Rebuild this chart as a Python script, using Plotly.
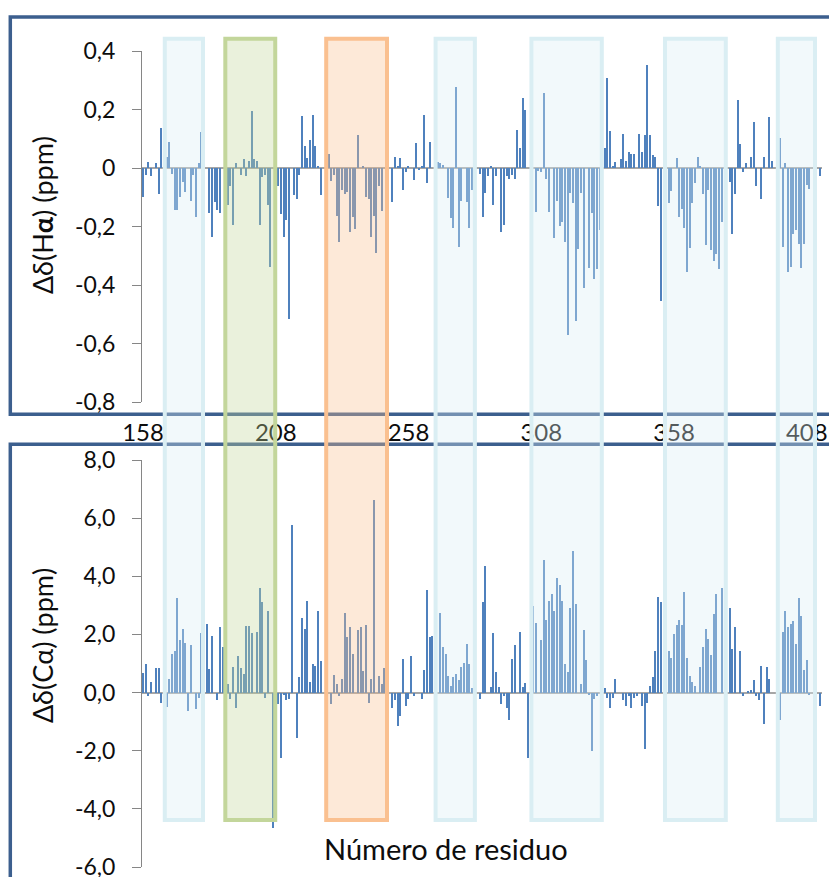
import plotly.graph_objects as go

# ---------------- data ----------------
ha_residue = [158,159,160,161,163,164,165,167,168,169,170,171,172,173,174,176,177,178,179,180,
              183,184,185,186,187,190,191,192,193,195,196,197,198,199,200,201,202,203,204,205,206,
              209,210,211,212,213,215,216,217,218,219,220,221,222,223,224,225,228,229,230,231,232,
              233,234,235,236,237,238,239,241,242,243,244,245,246,247,248,252,253,254,255,256,257,
              258,260,261,262,263,264,265,266,269,270,271,273,274,275,276,277,278,280,281,282,285,
              286,287,288,289,290,291,293,294,295,296,297,298,299,300,301,302,306,307,308,309,310,
              311,313,314,315,316,317,318,319,320,321,322,323,324,326,327,328,329,330,332,333,334,
              335,336,338,339,340,341,342,343,345,346,347,348,349,350,351,352,353,356,357,359,360,
              361,362,363,364,365,366,367,368,369,370,371,372,373,374,375,376,379,380,381,382,383,
              384,385,387,388,389,391,392,394,395,398,399,400,401,402,403,404,405,406,407,408,409,413]
ha_shift = [-0.098,-0.024,0.019,-0.028,0.016,-0.089,0.136,0.039,0.09,-0.022,-0.145,-0.145,-0.098,-0.047,-0.081,-0.112,-0.024,-0.168,0.016,0.122,
            -0.153,-0.237,-0.115,-0.144,-0.154,-0.126,-0.062,-0.195,0.016,-0.024,0.03,-0.027,0.025,0.196,0.03,0.025,-0.195,-0.03,-0.024,-0.126,-0.337,
            -0.062,-0.158,-0.236,-0.177,-0.517,-0.093,-0.107,-0.024,0.178,0.076,0.034,0.095,0.181,0.076,0.006,-0.092,0.048,-0.043,-0.024,-0.163,-0.254,
            -0.075,-0.089,-0.083,-0.218,-0.166,-0.209,0.112,0.006,-0.098,-0.106,-0.236,-0.163,-0.29,-0.062,-0.148,-0.115,0.039,0.006,0.033,-0.075,-0.015,
            0.007,-0.042,0.084,-0.005,0.006,0.181,-0.052,0.09,0.021,0.016,0.011,-0.104,-0.172,-0.204,0.278,-0.269,-0.112,-0.116,-0.204,-0.075,-0.02,
            -0.168,-0.084,-0.028,0.006,-0.126,-0.028,-0.218,-0.195,-0.028,-0.038,-0.024,-0.038,0.131,0.067,0.238,0.2,-0.149,-0.009,-0.015,0.255,-0.038,
            -0.149,-0.24,-0.112,-0.199,-0.186,-0.252,-0.571,-0.084,-0.121,-0.522,-0.277,-0.084,-0.411,-0.343,-0.154,-0.379,-0.346,-0.213,0.067,0.307,0.125,
            0.007,0.019,0.03,0.116,0.025,0.054,0.049,0.049,0.116,0.054,0.113,0.352,0.113,0.044,0.039,-0.13,-0.454,-0.121,-0.08,0.034,-0.168,
            -0.139,-0.204,-0.356,-0.272,-0.121,-0.051,0.039,0.006,-0.089,-0.263,-0.075,-0.281,-0.319,-0.295,-0.346,-0.186,-0.047,-0.227,-0.089,0.232,0.081,
            -0.015,0.016,0.039,0.158,-0.062,-0.107,0.039,0.173,0.025,0.104,-0.269,0.016,-0.356,-0.337,-0.227,-0.213,-0.259,-0.342,-0.259,-0.057,-0.071,-0.028]

ca_residue = [158,159,160,161,163,164,165,167,168,169,170,171,172,173,174,175,176,178,179,180,
              182,183,184,186,187,188,190,191,192,193,194,195,196,197,198,199,201,202,203,204,205,
              207,209,210,211,212,213,214,216,217,218,219,220,221,222,223,224,225,229,230,231,232,
              233,234,235,236,237,239,240,241,242,243,244,245,247,248,249,252,253,254,255,256,257,
              258,259,260,263,264,265,266,267,270,271,272,273,274,275,276,277,278,279,280,281,282,
              285,286,287,289,290,291,292,293,294,295,296,297,298,300,301,302,303,305,306,308,309,
              310,311,312,313,314,315,316,317,318,319,320,321,323,324,325,326,327,328,329,332,333,
              334,335,336,339,340,341,342,343,344,346,347,348,349,350,351,352,353,355,356,357,358,
              359,360,361,362,363,364,365,366,368,369,370,371,372,373,374,376,379,380,381,383,384,
              386,387,388,389,390,391,392,393,394,398,399,400,401,402,403,404,405,406,407,408,409,413]
ca_shift = [0.69,0.97,-0.11,0.38,0.84,0.84,-0.36,-0.49,0.47,1.34,1.43,3.25,1.81,2.18,1.72,-0.63,1.63,-0.58,-0.17,2.04,
            2.37,0.80,1.95,-0.26,2.27,1.58,0.29,-0.22,0.89,-0.54,1.26,0.84,0.65,2.29,2.29,2.04,2.09,3.61,3.11,-0.17,2.79,
            -4.67,-0.40,-2.26,-0.08,-0.26,-0.22,5.76,-1.56,0.52,2.56,2.18,3.15,0.38,0.97,0.93,2.79,1.07,-0.40,0.61,0.29,-0.11,
            0.47,2.73,1.92,2.24,1.34,2.14,2.24,0.75,2.32,-0.36,0.47,6.63,0.56,0.29,0.84,-0.54,-0.26,-1.15,-0.82,1.17,-0.45,
            -0.22,1.26,-0.11,-0.22,0.79,3.53,1.92,1.95,2.73,1.58,1.34,0.56,0.23,0.52,0.65,0.42,0.88,1.02,1.66,0.97,0.15,
            -0.22,3.12,4.36,0.18,2.04,0.70,0.18,-0.40,-0.13,-0.54,-0.95,1.17,1.63,2.09,0.18,0.32,-2.26,2.97,2.41,1.81,4.55,
            2.50,3.15,3.38,2.79,3.93,3.70,3.15,0.97,0.70,2.92,4.86,3.06,0.29,2.14,1.11,-0.08,-2.01,-0.22,-0.13,0.17,-0.17,
            -0.54,-0.17,0.47,-0.26,-0.45,-0.13,-0.54,-0.17,-0.13,-0.45,-1.93,-0.36,0.23,0.52,1.43,3.29,3.11,1.39,1.43,1.20,2.00,
            2.32,2.50,2.32,3.47,1.20,0.56,0.38,0.24,0.88,1.57,2.18,1.86,1.30,2.69,3.38,3.61,2.92,1.49,2.24,1.44,-0.13,
            0.03,0.08,0.42,-0.13,-0.26,0.93,-1.09,0.88,0.47,-0.95,2.09,2.79,2.24,2.37,2.47,1.66,3.25,2.64,0.79,1.11,-0.08,-0.45]

x_tick_values = [158, 208, 258, 308, 358, 408]
x_tick_labels = ["158", "208", "258", "308", "358", "408"]
ha_tick_values = [0.4, 0.2, 0, -0.2, -0.4, -0.6, -0.8]
ha_tick_labels = ["0,4", "0,2", "0", "-0,2", "-0,4", "-0,6", "-0,8"]
ca_tick_values = [8, 6, 4, 2, 0, -2, -4, -6]
ca_tick_labels = ["8,0", "6,0", "4,0", "2,0", "0,0", "-2,0", "-4,0", "-6,0"]

# highlighted regions (residue edges) and their kind
region_start = [166.2, 189.0, 227.0, 268.2, 304.3, 354.6, 397.1]
region_end = [180.6, 207.8, 249.9, 283.0, 330.8, 377.5, 411.1]
region_kind = ["blue", "green", "orange", "blue", "blue", "blue", "blue"]

# ---------------- styling ----------------
W, H = 837, 877
OFF = 8  # page body margin offset
FONT = "Lato, 'Open Sans', sans-serif"
BAR = "#4F81BD"
AXIS = "#868686"
ZERO = "#A6A6A6"
FRAME = "#3C5F8E"
KIND_COLOR = {"blue": (218, 238, 243), "green": (195, 214, 155), "orange": (250, 192, 144)}

def px_x(p):
    return (p - OFF) / W

def px_y(p):
    return 1 - (p - OFF) / H

fig = go.Figure()
fig.add_trace(go.Bar(x=ha_residue, y=ha_shift, width=0.5, marker=dict(color=BAR, line=dict(width=0)),
                     xaxis="x", yaxis="y", showlegend=False))
fig.add_trace(go.Bar(x=ca_residue, y=ca_shift, width=0.5, marker=dict(color=BAR, line=dict(width=0)),
                     xaxis="x2", yaxis="y2", showlegend=False))

x_domain = [px_x(142), px_x(822)]
x_range = [157.62, 157.62 + (822 - 142) / 2.655]

common_x = dict(domain=x_domain, range=x_range, showgrid=False, zeroline=False, showline=False,
                ticks="", tickvals=x_tick_values, ticktext=x_tick_labels, automargin=False)
common_y = dict(showgrid=False, zeroline=True, zerolinecolor=ZERO, zerolinewidth=1.5,
                showline=True, linecolor=AXIS, linewidth=1, ticks="outside", ticklen=9,
                tickcolor=AXIS, tickwidth=1, ticklabelstandoff=12, automargin=False,
                tickfont=dict(family=FONT, size=23, color="#0d0d0d"))

fig.update_layout(
    width=W, height=H,
    margin=dict(l=0, r=0, t=0, b=0, pad=0, autoexpand=False),
    paper_bgcolor="white", plot_bgcolor="rgba(0,0,0,0)",
    bargap=0,
    xaxis=dict(**common_x, anchor="y", showticklabels=True, ticklabelstandoff=14,
               tickfont=dict(family=FONT, size=24, color="#0d0d0d")),
    yaxis=dict(**common_y, domain=[px_y(402), px_y(51)], range=[-0.8, 0.4], anchor="x",
               tickvals=ha_tick_values, ticktext=ha_tick_labels),
    xaxis2=dict(**common_x, anchor="y2", matches="x", showticklabels=False),
    yaxis2=dict(**common_y, domain=[px_y(867), px_y(460)], range=[-6, 8], anchor="x2",
                tickvals=ca_tick_values, ticktext=ca_tick_labels),
)

shapes = []
# panel frames
shapes.append(dict(type="rect", xref="paper", yref="paper", x0=px_x(10.3), x1=px_x(860),
                   y0=px_y(414.3), y1=px_y(17), line=dict(color=FRAME, width=3.5),
                   fillcolor="rgba(0,0,0,0)", layer="above"))
shapes.append(dict(type="rect", xref="paper", yref="paper", x0=px_x(10.3), x1=px_x(860),
                   y0=px_y(900), y1=px_y(444.3), line=dict(color=FRAME, width=3.5),
                   fillcolor="rgba(0,0,0,0)", layer="above"))
# highlighted regions spanning both panels
for s, e, k in zip(region_start, region_end, region_kind):
    r, g, b = KIND_COLOR[k]
    shapes.append(dict(type="rect", xref="x", yref="paper", x0=s, x1=e,
                       y0=px_y(820), y1=px_y(38.7),
                       line=dict(color=f"rgb({r},{g},{b})", width=4),
                       fillcolor=f"rgba({r},{g},{b},0.35)", layer="above"))
fig.update_layout(shapes=shapes)

annotations = [
    dict(text="Δδ(H<b>α</b>) (ppm)", x=px_x(42), y=px_y(215), xref="paper", yref="paper",
         textangle=-90, showarrow=False, font=dict(family=FONT, size=27, color="#0d0d0d"),
         xanchor="center", yanchor="middle"),
    dict(text="Δδ(Cα) (ppm)", x=px_x(42), y=px_y(646), xref="paper", yref="paper",
         textangle=-90, showarrow=False, font=dict(family=FONT, size=27, color="#0d0d0d"),
         xanchor="center", yanchor="middle"),
    dict(text="Número de residuo", x=px_x(446), y=px_y(848), xref="paper", yref="paper",
         showarrow=False, font=dict(family=FONT, size=29, color="#0d0d0d"),
         xanchor="center", yanchor="middle"),
]
fig.update_layout(annotations=annotations)

fig.write_html("out.html")
